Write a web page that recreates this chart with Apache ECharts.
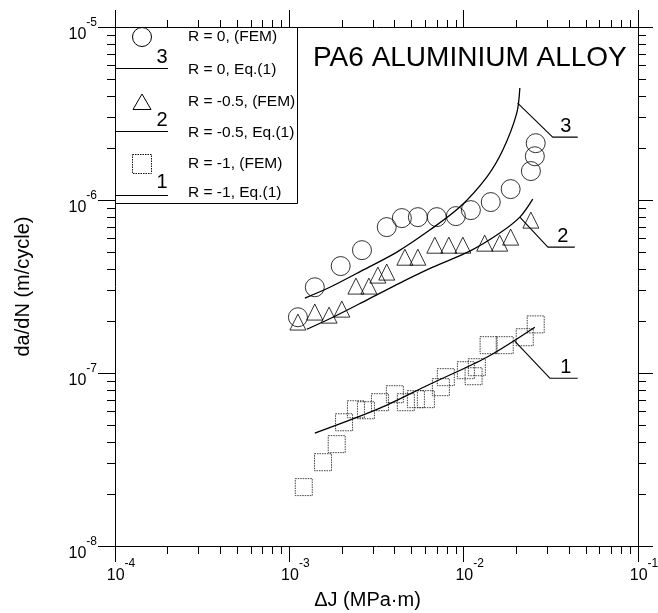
<!DOCTYPE html>
<html>
<head>
<meta charset="utf-8">
<title>PA6 aluminium alloy - da/dN vs dJ</title>
<script src="https://cdn.jsdelivr.net/npm/echarts@6/dist/echarts.min.js"></script>
<style>
    html, body { margin: 0; padding: 0; background: #fff; }
    #chart { width: 658px; height: 613px; }
</style>
</head>
<body>
<div id="chart"></div>
<script>
// points: [dJ (MPa·m), da/dN (m/cycle)]
var femR0 = [
    [1.12e-3, 2.10e-7], [1.40e-3, 3.13e-7], [1.97e-3, 4.15e-7], [2.61e-3, 5.13e-7],
    [3.62e-3, 6.97e-7], [4.42e-3, 7.86e-7], [5.46e-3, 7.96e-7], [7.01e-3, 7.96e-7],
    [9.02e-3, 8.07e-7], [1.10e-2, 8.74e-7], [1.43e-2, 9.73e-7], [1.86e-2, 1.156e-6],
    [2.43e-2, 1.47e-6], [2.56e-2, 1.79e-6], [2.59e-2, 2.13e-6]
];
var femR05 = [
    [1.12e-3, 1.97e-7], [1.40e-3, 2.25e-7], [1.69e-3, 2.16e-7], [2.00e-3, 2.34e-7],
    [2.41e-3, 3.18e-7], [2.86e-3, 3.18e-7], [3.22e-3, 3.68e-7], [3.62e-3, 3.83e-7],
    [4.60e-3, 4.67e-7], [5.46e-3, 4.67e-7], [6.83e-3, 5.48e-7], [8.22e-3, 5.48e-7],
    [9.89e-3, 5.48e-7], [1.32e-2, 5.63e-7], [1.61e-2, 5.63e-7], [1.86e-2, 6.10e-7],
    [2.43e-2, 7.65e-7]
];
var femR1 = [
    [1.21e-3, 2.19e-8], [1.56e-3, 3.05e-8], [1.87e-3, 3.88e-8], [2.06e-3, 5.19e-8],
    [2.41e-3, 6.17e-8], [2.75e-3, 6.09e-8], [3.31e-3, 6.78e-8], [4.03e-3, 7.54e-8],
    [4.66e-3, 6.78e-8], [5.32e-3, 7.06e-8], [6.07e-3, 7.06e-8], [7.40e-3, 8.28e-8],
    [7.90e-3, 9.46e-8], [1.03e-2, 1.038e-7], [1.14e-2, 9.58e-8], [1.19e-2, 1.08e-7],
    [1.39e-2, 1.448e-7], [1.72e-2, 1.448e-7], [2.24e-2, 1.61e-7], [2.59e-2, 1.91e-7]
];
var eqR0 = [
    [1.228e-3, 2.71e-7], [1.708e-3, 3.13e-7], [2.64e-3, 3.93e-7], [4.14e-3, 5.00e-7],
    [6.39e-3, 6.70e-7], [9.50e-3, 9.10e-7], [1.357e-2, 1.357e-6], [1.677e-2, 1.943e-6],
    [2.016e-2, 3.18e-6], [2.10e-2, 4.44e-6]
];
var eqR05 = [
    [1.261e-3, 1.79e-7], [1.778e-3, 2.10e-7], [2.78e-3, 2.64e-7], [4.30e-3, 3.31e-7],
    [6.65e-3, 4.09e-7], [1.084e-2, 5.06e-7], [1.612e-2, 6.44e-7], [2.10e-2, 7.96e-7],
    [2.49e-2, 1.012e-6]
];
var eqR1 = [
    [1.40e-3, 4.49e-8], [3.31e-3, 6.26e-8], [6.39e-3, 8.61e-8], [1.357e-2, 1.234e-7],
    [2.56e-2, 1.84e-7]
];
// callout lines to the curve numbers
var leader3 = [[2.04e-2, 3.63e-6], [3.24e-2, 2.31e-6], [4.51e-2, 2.31e-6]];
var leader2 = [[2.10e-2, 7.96e-7], [3.04e-2, 5.34e-7], [4.34e-2, 5.34e-7]];
var leader1 = [[1.965e-2, 1.528e-7], [3.12e-2, 9.33e-8], [4.51e-2, 9.33e-8]];
var legendNames = ['R = 0, (FEM)', 'R = 0, Eq.(1)', 'R = -0.5, (FEM)', 'R = -0.5, Eq.(1)', 'R = -1, (FEM)', 'R = -1, Eq.(1)'];
var curveNumbers = ['3', '2', '1'];
var minorSteps = [2, 3, 4, 5, 6, 7, 8, 9];
var xDecades = [1e-4, 1e-3, 1e-2];
var yDecades = [1e-8, 1e-7, 1e-6];
var xMin = 1e-4, xMax = 1e-1, yMin = 1e-8, yMax = 1e-5;

var font = 'Liberation Sans, Arial, sans-serif';
var W = 658, H = 613;
var G = {left: 115, right: 20, top: 27, bottom: 67};
var chart = echarts.init(document.getElementById('chart'));

function expLabel(v) {
    var e = Math.round(Math.log10(v));
    return '{b|10}{s|' + e + '}';
}

function makeAxis(pos, min, max, tickLen, isX, withLabel) {
    var ax = {
        type: 'log',
        logBase: 10,
        min: min,
        max: max,
        position: pos,
        gridIndex: 0,
        axisLine: {show: true, lineStyle: {color: '#000', width: 1}},
        axisTick: {show: true, inside: false, length: tickLen, lineStyle: {color: '#000', width: 1}},
        splitLine: {show: false},
        minorTick: {show: false},
        axisLabel: {show: false}
    };
    if (withLabel) {
        ax.axisLabel = {
            show: true,
            margin: isX ? 14 : 18,
            color: '#000',
            fontFamily: font,
            formatter: expLabel,
            rich: {
                b: {fontSize: 16, lineHeight: 16, fontFamily: font, color: '#000', padding: isX ? [15, 0, 0, 12] : [15, 0, 0, 0]},
                s: {fontSize: 12, lineHeight: 12, fontFamily: font, color: '#000', padding: [5, 0, 14, 0]}
            }
        };
    }
    return ax;
}

var xBottom = makeAxis('bottom', xMin, xMax, 16, true, true);
xBottom.name = 'ΔJ (MPa·m)';
xBottom.nameLocation = 'middle';
xBottom.nameGap = 44;
xBottom.nameTextStyle = {fontSize: 20, color: '#000', fontFamily: font, padding: [0, 18, 0, 0]};

var yLeft = makeAxis('left', yMin, yMax, 17, false, true);
yLeft.name = 'da/dN (m/cycle)';
yLeft.nameLocation = 'middle';
yLeft.nameGap = 82;
yLeft.nameTextStyle = {fontSize: 20, color: '#000', fontFamily: font};

var hollow = {color: 'rgba(0,0,0,0)', borderColor: '#000', borderWidth: 1};

function eqSeries(name, data) {
    return {
        name: name, type: 'line', data: data, smooth: 0.3,
        symbol: 'none', lineStyle: {color: '#000', width: 1.3}, itemStyle: {color: '#000'},
        z: 3
    };
}

function leaderSeries(data, num) {
    var pts = data.map(function (p, i) {
        if (i < data.length - 1) return p;
        return {
            value: p,
            label: {
                show: true, formatter: num, position: 'top', offset: [-12, 0], distance: 1,
                fontSize: 20, color: '#000', fontFamily: font
            }
        };
    });
    return {
        type: 'line', data: pts, symbol: 'circle', symbolSize: 0, showSymbol: true,
        lineStyle: {color: '#000', width: 1.1}, itemStyle: {color: '#000'},
        silent: true, z: 3
    };
}

// legend box drawn by hand: symbols, sample lines with curve numbers, labels
var rowY = [37, 70, 102, 133, 164, 193];
var lineY = [68.5, 131.5, 195.5];
var numY = [57, 120, 182];
var graphics = [
    {type: 'rect', shape: {x: 115.5, y: 27.5, width: 182, height: 176}, style: {fill: '#fff', stroke: '#000', lineWidth: 1}, z: 50},
    {type: 'circle', shape: {cx: 142, cy: rowY[0], r: 9.5}, style: {fill: 'none', stroke: '#000', lineWidth: 1}, z: 51},
    {type: 'polygon', shape: {points: [[133, rowY[2] + 7.5], [151, rowY[2] + 7.5], [142, rowY[2] - 8]]}, style: {fill: 'none', stroke: '#000', lineWidth: 1}, z: 51},
    {type: 'rect', shape: {x: 132.5, y: rowY[4] - 9.5, width: 19, height: 19}, style: {fill: 'none', stroke: '#111', lineWidth: 1, lineDash: [1.5, 1]}, z: 51}
];
lineY.forEach(function (y, i) {
    graphics.push({type: 'line', shape: {x1: 115, y1: y, x2: 168, y2: y}, style: {stroke: '#000', lineWidth: 1.2}, z: 51});
    graphics.push({type: 'text', x: 162, y: numY[i], z: 51,
        style: {text: curveNumbers[i], font: '20px ' + font, fill: '#000', align: 'center', verticalAlign: 'middle'}});
});
legendNames.forEach(function (n, i) {
    graphics.push({type: 'text', x: 188, y: rowY[i], z: 51,
        style: {text: n, font: '15.5px ' + font, fill: '#000', align: 'left', verticalAlign: 'middle'}});
});

// minor log ticks (2..9 per decade) on all four sides, pointing outward;
// spots follow the same log mapping as the grid's axes
var gx0 = G.left, gx1 = W - G.right, gy0 = G.top, gy1 = H - G.bottom;
function logFrac(v, lo, hi) {
    return (Math.log10(v) - Math.log10(lo)) / (Math.log10(hi) - Math.log10(lo));
}
var tickStyle = {stroke: '#000', lineWidth: 1};
xDecades.forEach(function (d) {
    minorSteps.forEach(function (m) {
        var px = Math.round(gx0 + logFrac(d * m, xMin, xMax) * (gx1 - gx0)) + 0.5;
        graphics.push({type: 'line', silent: true, z: 10, shape: {x1: px, y1: gy1, x2: px, y2: gy1 + 8}, style: tickStyle});
        graphics.push({type: 'line', silent: true, z: 10, shape: {x1: px, y1: gy0, x2: px, y2: gy0 - 7}, style: tickStyle});
    });
});
yDecades.forEach(function (d) {
    minorSteps.forEach(function (m) {
        var py = Math.round(gy1 - logFrac(d * m, yMin, yMax) * (gy1 - gy0)) + 0.5;
        graphics.push({type: 'line', silent: true, z: 10, shape: {x1: gx0, y1: py, x2: gx0 - 8, y2: py}, style: tickStyle});
        graphics.push({type: 'line', silent: true, z: 10, shape: {x1: gx1, y1: py, x2: gx1 + 8, y2: py}, style: tickStyle});
    });
});

var option = {
    backgroundColor: '#fff',
    animation: false,
    textStyle: {fontFamily: font},
    title: {
        text: 'PA6 ALUMINIUM ALLOY',
        left: 313,
        top: 44,
        padding: 0,
        textStyle: {fontSize: 28, fontWeight: 'normal', color: '#000', fontFamily: font}
    },
    grid: {left: G.left, right: G.right, top: G.top, bottom: G.bottom, containLabel: false, outerBoundsMode: 'none'},
    graphic: graphics,
    xAxis: [
        xBottom,
        makeAxis('top', xMin, xMax, 17, true, false)
    ],
    yAxis: [
        yLeft,
        makeAxis('right', yMin, yMax, 15, false, false)
    ],
    series: [
        {name: legendNames[0], type: 'scatter', data: femR0, symbol: 'circle', symbolSize: 19, itemStyle: hollow},
        eqSeries(legendNames[1], eqR0),
        {name: legendNames[2], type: 'scatter', data: femR05, symbol: 'triangle', symbolSize: 16, itemStyle: hollow},
        eqSeries(legendNames[3], eqR05),
        {name: legendNames[4], type: 'scatter', data: femR1, symbol: 'rect', symbolSize: 17,
            itemStyle: {color: 'rgba(0,0,0,0)', borderColor: '#111', borderWidth: 1, borderType: [1.5, 1]}},
        eqSeries(legendNames[5], eqR1),
        leaderSeries(leader3, '3'),
        leaderSeries(leader2, '2'),
        leaderSeries(leader1, '1')
    ]
};
chart.setOption(option);
</script>
</body>
</html>
